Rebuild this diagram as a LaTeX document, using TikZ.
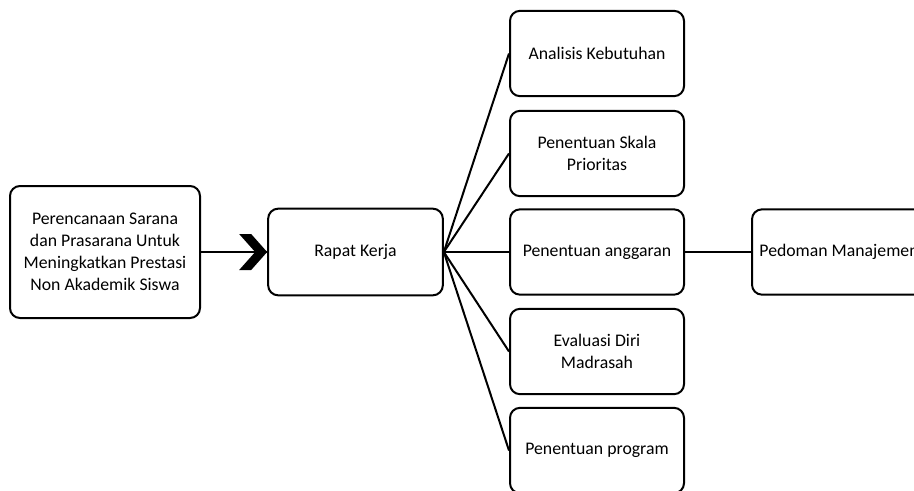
\documentclass[tikz,border=0pt]{standalone}
\usepackage{fontspec}
\setmainfont{Carlito}
\usetikzlibrary{calc}
\tikzset{
  kotak/.style={draw, rounded corners=7.5pt, line width=1.5pt, minimum width=130.5pt, minimum height=64pt, align=center, inner sep=2pt, font=\fontsize{13.3}{16.5}\selectfont},
  garis/.style={line width=1.5pt}
}
\begin{document}
\begin{tikzpicture}[x=0.75pt, y=-0.75pt]
	\clip (0,0) rectangle (914,490);
	
	\node[kotak, minimum width=142.5pt, minimum height=99pt] (plan) at (105,252) {Perencanaan Sarana\\dan Prasarana Untuk\\Meningkatkan Prestasi\\Non Akademik Siswa};
	\node[kotak, minimum width=131pt, minimum height=65pt] (rk) at (355.5,252) {Rapat Kerja};
	
	\foreach \nama/\y/\teks in {a/53.5/Analisis Kebutuhan, b/153.5/{Penentuan Skala\\Prioritas}, c/252/Penentuan anggaran, d/351.5/{Evaluasi Diri\\Madrasah}, e/450.5/Penentuan program} {
		\node[kotak] (\nama) at (597,\y) {\teks};
		\draw[garis] (rk.east) -- (\nama.west);
	}
	
	\node[kotak] (ped) at (839,252) {Pedoman Manajemen};
	\draw[garis] (c.east) -- (ped.west);
	
	\draw[garis] (plan.east) -- (rk.west);
	\fill ($(rk.west)+(-28,-18)$) -- ++(12,0) -- (rk.west) -- ++(-16,18) -- ++(-12,0) -- ++(16,-18) -- cycle;
\end{tikzpicture}
\end{document}
